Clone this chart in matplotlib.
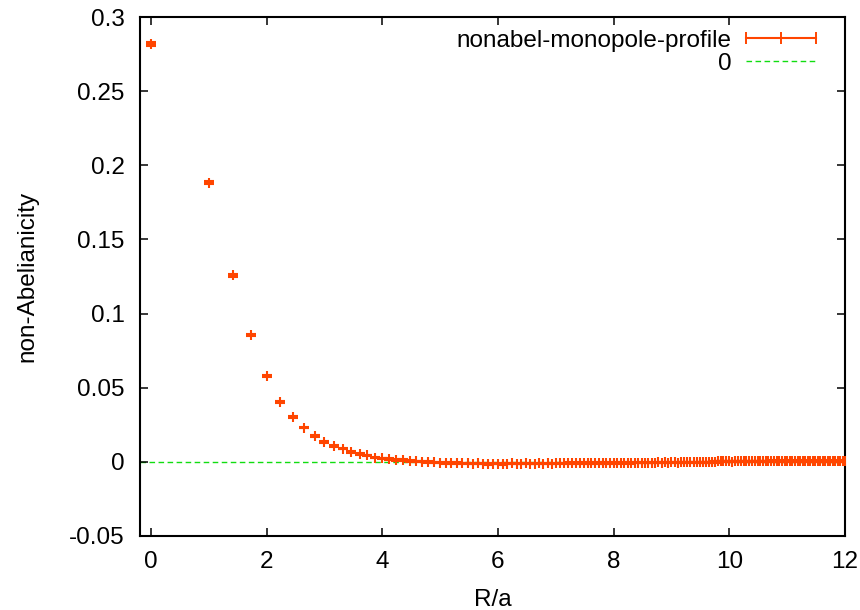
import matplotlib
matplotlib.use("Agg")
import matplotlib.pyplot as plt
from matplotlib.lines import Line2D

plt.rcParams['font.family'] = ['Liberation Sans', 'DejaVu Sans']

# R/a positions of the measured points
r_vals = [
    0.000, 1.000, 1.414, 1.732, 2.000, 2.236, 2.449, 2.646, 2.828, 3.000,
    3.162, 3.317, 3.464, 3.606, 3.742, 3.873, 4.000, 4.123, 4.243, 4.359,
    4.472, 4.583, 4.690, 4.796, 4.899, 5.000, 5.099, 5.196, 5.292, 5.385,
    5.477, 5.568, 5.657, 5.745, 5.831, 5.916, 6.000, 6.083, 6.164, 6.245,
    6.325, 6.403, 6.481, 6.557, 6.633, 6.708, 6.782, 6.856, 6.928, 7.000,
    7.071, 7.141, 7.211, 7.280, 7.348, 7.416, 7.483, 7.550, 7.616, 7.681,
    7.746, 7.810, 7.874, 7.937, 8.000, 8.062, 8.124, 8.185, 8.246, 8.307,
    8.367, 8.426, 8.485, 8.544, 8.602, 8.660, 8.718, 8.775, 8.832, 8.888,
    8.944, 9.000, 9.055, 9.110, 9.165, 9.220, 9.274, 9.327, 9.381, 9.434,
    9.487, 9.539, 9.592, 9.644, 9.695, 9.747, 9.798, 9.849, 9.899, 9.950,
    10.000, 10.050, 10.100, 10.149, 10.198, 10.247, 10.296, 10.344, 10.392, 10.440,
    10.488, 10.536, 10.583, 10.630, 10.677, 10.724, 10.770, 10.817, 10.863, 10.909,
    10.954, 11.000, 11.045, 11.091, 11.136, 11.180, 11.225, 11.269, 11.314, 11.358,
    11.402, 11.446, 11.489, 11.533, 11.576, 11.619, 11.662, 11.705, 11.747, 11.790,
    11.832, 11.874, 11.916, 11.958, 12.000,
]

# non-Abelianicity values
nonabel = [
    0.2818, 0.1883, 0.1257, 0.0854, 0.0579, 0.0405, 0.0302, 0.0230, 0.0173, 0.0135,
    0.0106, 0.0090, 0.0068, 0.0052, 0.0043, 0.0029, 0.0023, 0.0019, 0.0014, 0.0011,
    0.0007, 0.0004, 0.0002, 0.0000, -0.0003, -0.0005, -0.0007, -0.0008, -0.0009, -0.0010,
    -0.0011, -0.0012, -0.0011, -0.0012, -0.0013, -0.0012, -0.0012, -0.0013, -0.0012, -0.0011,
    -0.0012, -0.0012, -0.0011, -0.0012, -0.0012, -0.0011, -0.0012, -0.0011, -0.0012, -0.0011,
    -0.0010, -0.0010, -0.0009, -0.0010, -0.0009, -0.0009, -0.0008, -0.0009, -0.0008, -0.0008,
    -0.0008, -0.0007, -0.0008, -0.0007, -0.0007, -0.0006, -0.0007, -0.0006, -0.0006, -0.0007,
    -0.0006, -0.0005, -0.0006, -0.0005, -0.0006, -0.0005, -0.0005, -0.0004, -0.0005, -0.0004,
    -0.0005, -0.0004, -0.0004, -0.0005, -0.0004, -0.0004, -0.0003, -0.0004, -0.0004, -0.0003,
    -0.0004, -0.0003, -0.0004, -0.0003, -0.0003, -0.0002, 0.0003, 0.0004, 0.0003, 0.0004,
    0.0003, 0.0002, 0.0003, 0.0004, 0.0003, 0.0003, 0.0004, 0.0003, 0.0004, 0.0003,
    0.0004, 0.0003, 0.0004, 0.0004, 0.0003, 0.0004, 0.0005, 0.0004, 0.0004, 0.0005,
    0.0004, 0.0005, 0.0004, 0.0004, 0.0005, 0.0004, 0.0005, 0.0004, 0.0005, 0.0004,
    0.0004, 0.0005, 0.0004, 0.0005, 0.0004, 0.0004, 0.0005, 0.0004, 0.0005, 0.0004,
    0.0004, 0.0005, 0.0004, 0.0004, 0.0005,
]

# error bars
nonabel_err = [
    0.0012, 0.0010, 0.0008, 0.0007, 0.0006, 0.0006, 0.0005, 0.0005, 0.0005, 0.0005,
    0.0005, 0.0005, 0.0005, 0.0005, 0.0005, 0.0005, 0.0005, 0.0005, 0.0005, 0.0005,
    0.0005, 0.0005, 0.0005, 0.0005, 0.0005, 0.0005, 0.0005, 0.0005, 0.0005, 0.0005,
    0.0005, 0.0005, 0.0005, 0.0005, 0.0005, 0.0005, 0.0005, 0.0005, 0.0005, 0.0005,
    0.0005, 0.0005, 0.0005, 0.0005, 0.0005, 0.0005, 0.0005, 0.0005, 0.0005, 0.0005,
    0.0005, 0.0005, 0.0005, 0.0005, 0.0005, 0.0005, 0.0005, 0.0005, 0.0005, 0.0005,
    0.0005, 0.0005, 0.0005, 0.0005, 0.0005, 0.0005, 0.0005, 0.0005, 0.0005, 0.0005,
    0.0005, 0.0005, 0.0005, 0.0005, 0.0005, 0.0005, 0.0005, 0.0005, 0.0005, 0.0005,
    0.0005, 0.0005, 0.0005, 0.0005, 0.0005, 0.0005, 0.0005, 0.0005, 0.0005, 0.0005,
    0.0005, 0.0005, 0.0005, 0.0005, 0.0005, 0.0005, 0.0005, 0.0005, 0.0005, 0.0005,
    0.0005, 0.0005, 0.0005, 0.0005, 0.0005, 0.0005, 0.0005, 0.0005, 0.0005, 0.0005,
    0.0005, 0.0005, 0.0005, 0.0005, 0.0005, 0.0005, 0.0005, 0.0005, 0.0005, 0.0005,
    0.0005, 0.0005, 0.0005, 0.0005, 0.0005, 0.0005, 0.0005, 0.0005, 0.0005, 0.0005,
    0.0005, 0.0005, 0.0005, 0.0005, 0.0005, 0.0005, 0.0005, 0.0005, 0.0005, 0.0005,
    0.0005, 0.0005, 0.0005, 0.0005, 0.0005,
]

zero_level = 0.0
x_ticks = [0, 2, 4, 6, 8, 10, 12]
y_ticks = [-0.05, 0, 0.05, 0.1, 0.15, 0.2, 0.25, 0.3]
y_tick_labels = ['-0.05', '0', '0.05', '0.1', '0.15', '0.2', '0.25', '0.3']

RED = '#ff4500'
GREEN = '#11dd11'
FS = 17.5

fig = plt.figure(figsize=(8.6, 6.1), dpi=100)
ax = fig.add_axes([140 / 860, 74 / 610, 705 / 860, 519 / 610])

ax.axhline(zero_level, color=GREEN, lw=1.0, dashes=(4, 2.5), zorder=1)
ax.errorbar(r_vals, nonabel, yerr=nonabel_err, fmt='+', ms=7, mew=1.5,
            color=RED, ecolor=RED, elinewidth=1.5, capsize=3.8, capthick=1.6,
            zorder=3)

ax.set_xlim(-0.19, 12)
ax.set_ylim(-0.05, 0.3)
ax.set_xticks(x_ticks)
ax.set_xticklabels([str(t) for t in x_ticks])
ax.set_yticks(y_ticks)
ax.set_yticklabels(y_tick_labels)
ax.tick_params(direction='in', top=True, right=True, length=6, width=1.1,
               labelsize=FS, colors='black')
ax.tick_params(axis='y', pad=11)
ax.tick_params(axis='x', pad=11)
for s in ax.spines.values():
    s.set_linewidth(1.5)

ax.set_xlabel('R/a', fontsize=FS, labelpad=11.5)
ax.set_ylabel('non-Abelianicity', fontsize=FS)
ax.yaxis.set_label_coords((38 - 140) / 705, 0.5)

h1 = Line2D([], [], color=RED, lw=1.5, marker='|', ms=8, mew=1.4)
h2 = Line2D([], [], color=GREEN, lw=1.0, dashes=(4, 2.5))
ax.legend([h1, h2], ['nonabel-monopole-profile', '0'], loc='upper right',
          bbox_to_anchor=((823 - 140) / 705, 1 - 12.5 / 519),
          frameon=False, fontsize=FS, markerfirst=False, numpoints=3,
          handlelength=3.45, handletextpad=0.3, labelspacing=0.06,
          borderaxespad=0.0, borderpad=0.0)

fig.savefig('out.png', dpi=100)
